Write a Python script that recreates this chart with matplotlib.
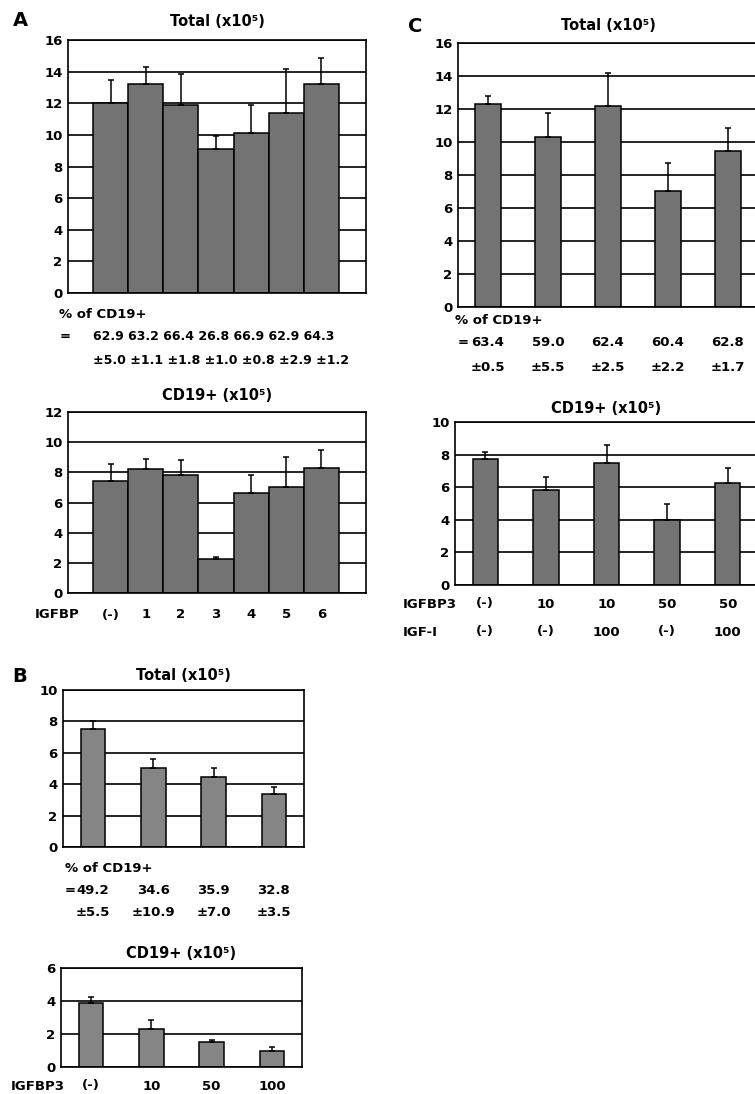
import matplotlib.pyplot as plt
from matplotlib.transforms import blended_transform_factory

plt.rcParams['font.family'] = ['DejaVu Sans', 'Liberation Sans']
plt.rcParams['font.weight'] = 'bold'

W, H = 755, 1094

# Panel A: IGFBP1-6
a_names = ['(-)', '1', '2', '3', '4', '5', '6']
a_total = [12.0, 13.2, 11.9, 9.1, 10.1, 11.4, 13.2]
a_total_sd = [1.5, 1.1, 1.95, 0.8, 1.8, 2.75, 1.65]
a_cd19 = [7.45, 8.25, 7.85, 2.25, 6.6, 7.0, 8.3]
a_cd19_sd = [1.1, 0.65, 1.0, 0.15, 1.2, 2.0, 1.2]
a_pct = ['62.9', '63.2', '66.4', '26.8', '66.9', '62.9', '64.3']
a_pct_sd = ['±5.0', '±1.1', '±1.8', '±1.0', '±0.8', '±2.9', '±1.2']

# Panel B: IGFBP3 dose
b_names = ['(-)', '10', '50', '100']
b_total = [7.5, 5.05, 4.45, 3.35]
b_total_sd = [0.5, 0.55, 0.6, 0.45]
b_cd19 = [3.85, 2.3, 1.5, 1.0]
b_cd19_sd = [0.4, 0.55, 0.15, 0.2]
b_pct = ['49.2', '34.6', '35.9', '32.8']
b_pct_sd = ['±5.5', '±10.9', '±7.0', '±3.5']

# Panel C: IGFBP3 + IGF-I
c_igfbp3 = ['(-)', '10', '10', '50', '50']
c_igf1 = ['(-)', '(-)', '100', '(-)', '100']
c_total = [12.3, 10.3, 12.2, 7.05, 9.45]
c_total_sd = [0.5, 1.45, 2.0, 1.65, 1.4]
c_cd19 = [7.75, 5.85, 7.5, 4.0, 6.25]
c_cd19_sd = [0.4, 0.8, 1.1, 1.0, 0.95]
c_pct = ['63.4', '59.0', '62.4', '60.4', '62.8']
c_pct_sd = ['±0.5', '±5.5', '±2.5', '±2.2', '±1.7']

fig = plt.figure(figsize=(W / 100, H / 100), dpi=100)


def add_ax(l, t, r, b):
    return fig.add_axes([l / W, 1 - b / H, (r - l) / W, (b - t) / H])


def ftext(x, y, s, **kw):
    kw.setdefault('va', 'center')
    kw.setdefault('fontsize', 9.5)
    fig.text(x / W, 1 - y / H, s, **kw)


def row(ax, y, labels, **kw):
    # one text per bar, x from the data axis, y in figure pixels
    tr = blended_transform_factory(ax.transData, fig.transFigure)
    for i, s in enumerate(labels):
        ax.text(i, 1 - y / H, s, transform=tr, ha='center', va='center',
                fontsize=kw.get('fontsize', 9.5))


def bars(ax, means, sds, width, xlim, ymax, step, title, title_y, color='#737373'):
    x = list(range(len(means)))
    ax.bar(x, means, width=width, color=color, edgecolor='black',
           linewidth=1.1, zorder=2)
    ax.errorbar(x, means, yerr=[[0] * len(sds), sds], fmt='none', ecolor='black',
                elinewidth=1.1, capsize=2.5, capthick=1.1, zorder=3)
    ax.set_xlim(*xlim)
    ax.set_ylim(0, ymax)
    ax.set_yticks(range(0, ymax + 1, step))
    ax.yaxis.grid(True, color='black', linewidth=1.2)
    ax.set_axisbelow(True)
    ax.set_xticks([])
    ax.tick_params(axis='y', length=0, pad=4, labelsize=9.5)
    for s in ax.spines.values():
        s.set_linewidth(1.2)
    l, b, w, h = ax.get_position().bounds
    fig.text(l + w / 2, 1 - title_y / H, title, ha='center', va='center',
             fontsize=10.5)


# ---- A ----
ax = add_ax(68, 40, 366, 293)
bars(ax, a_total, a_total_sd, 1.0, (-1.21, 7.27), 16, 2, 'Total (x10⁵)', 22)
ftext(59, 314, '% of CD19+')
ftext(60, 337, '=')
ftext(93, 337, ' '.join(a_pct), fontsize=9)
ftext(93, 360, ' '.join(a_pct_sd), fontsize=9)

ax = add_ax(68, 412, 366, 593)
bars(ax, a_cd19, a_cd19_sd, 1.0, (-1.21, 7.27), 12, 2, 'CD19+ (x10⁵)', 396)
ftext(35, 615, 'IGFBP')
row(ax, 615, a_names)

ftext(20, 20, 'A', fontsize=14, ha='center')

# ---- B ----
ax = add_ax(63, 690, 304, 847)
bars(ax, b_total, b_total_sd, 0.41, (-0.5, 3.5), 10, 2, 'Total (x10⁵)', 675,
     color='#858585')
ftext(65, 868, '% of CD19+')
ftext(65, 891, '=')
row(ax, 891, b_pct)
row(ax, 913, b_pct_sd)

ax = add_ax(61, 968, 302, 1067)
bars(ax, b_cd19, b_cd19_sd, 0.41, (-0.5, 3.5), 6, 2, 'CD19+ (x10⁵)', 953,
     color='#858585')
ftext(11, 1086, 'IGFBP3')
row(ax, 1086, b_names)

ftext(20, 677, 'B', fontsize=14, ha='center')

# ---- C ----
ax = add_ax(458, 43, 758, 307)
bars(ax, c_total, c_total_sd, 0.42, (-0.5, 4.5), 16, 2, 'Total (x10⁵)', 25)
ftext(455, 320, '% of CD19+')
ftext(458, 343, '=')
row(ax, 343, c_pct)
row(ax, 367, c_pct_sd)

ax = add_ax(455, 422, 758, 585)
bars(ax, c_cd19, c_cd19_sd, 0.42, (-0.5, 4.5), 10, 2, 'CD19+ (x10⁵)', 408)
ftext(403, 604, 'IGFBP3')
row(ax, 604, c_igfbp3)
ftext(403, 632, 'IGF-I')
row(ax, 632, c_igf1)

ftext(415, 27, 'C', fontsize=14, ha='center')

fig.savefig('out.png', dpi=100)
